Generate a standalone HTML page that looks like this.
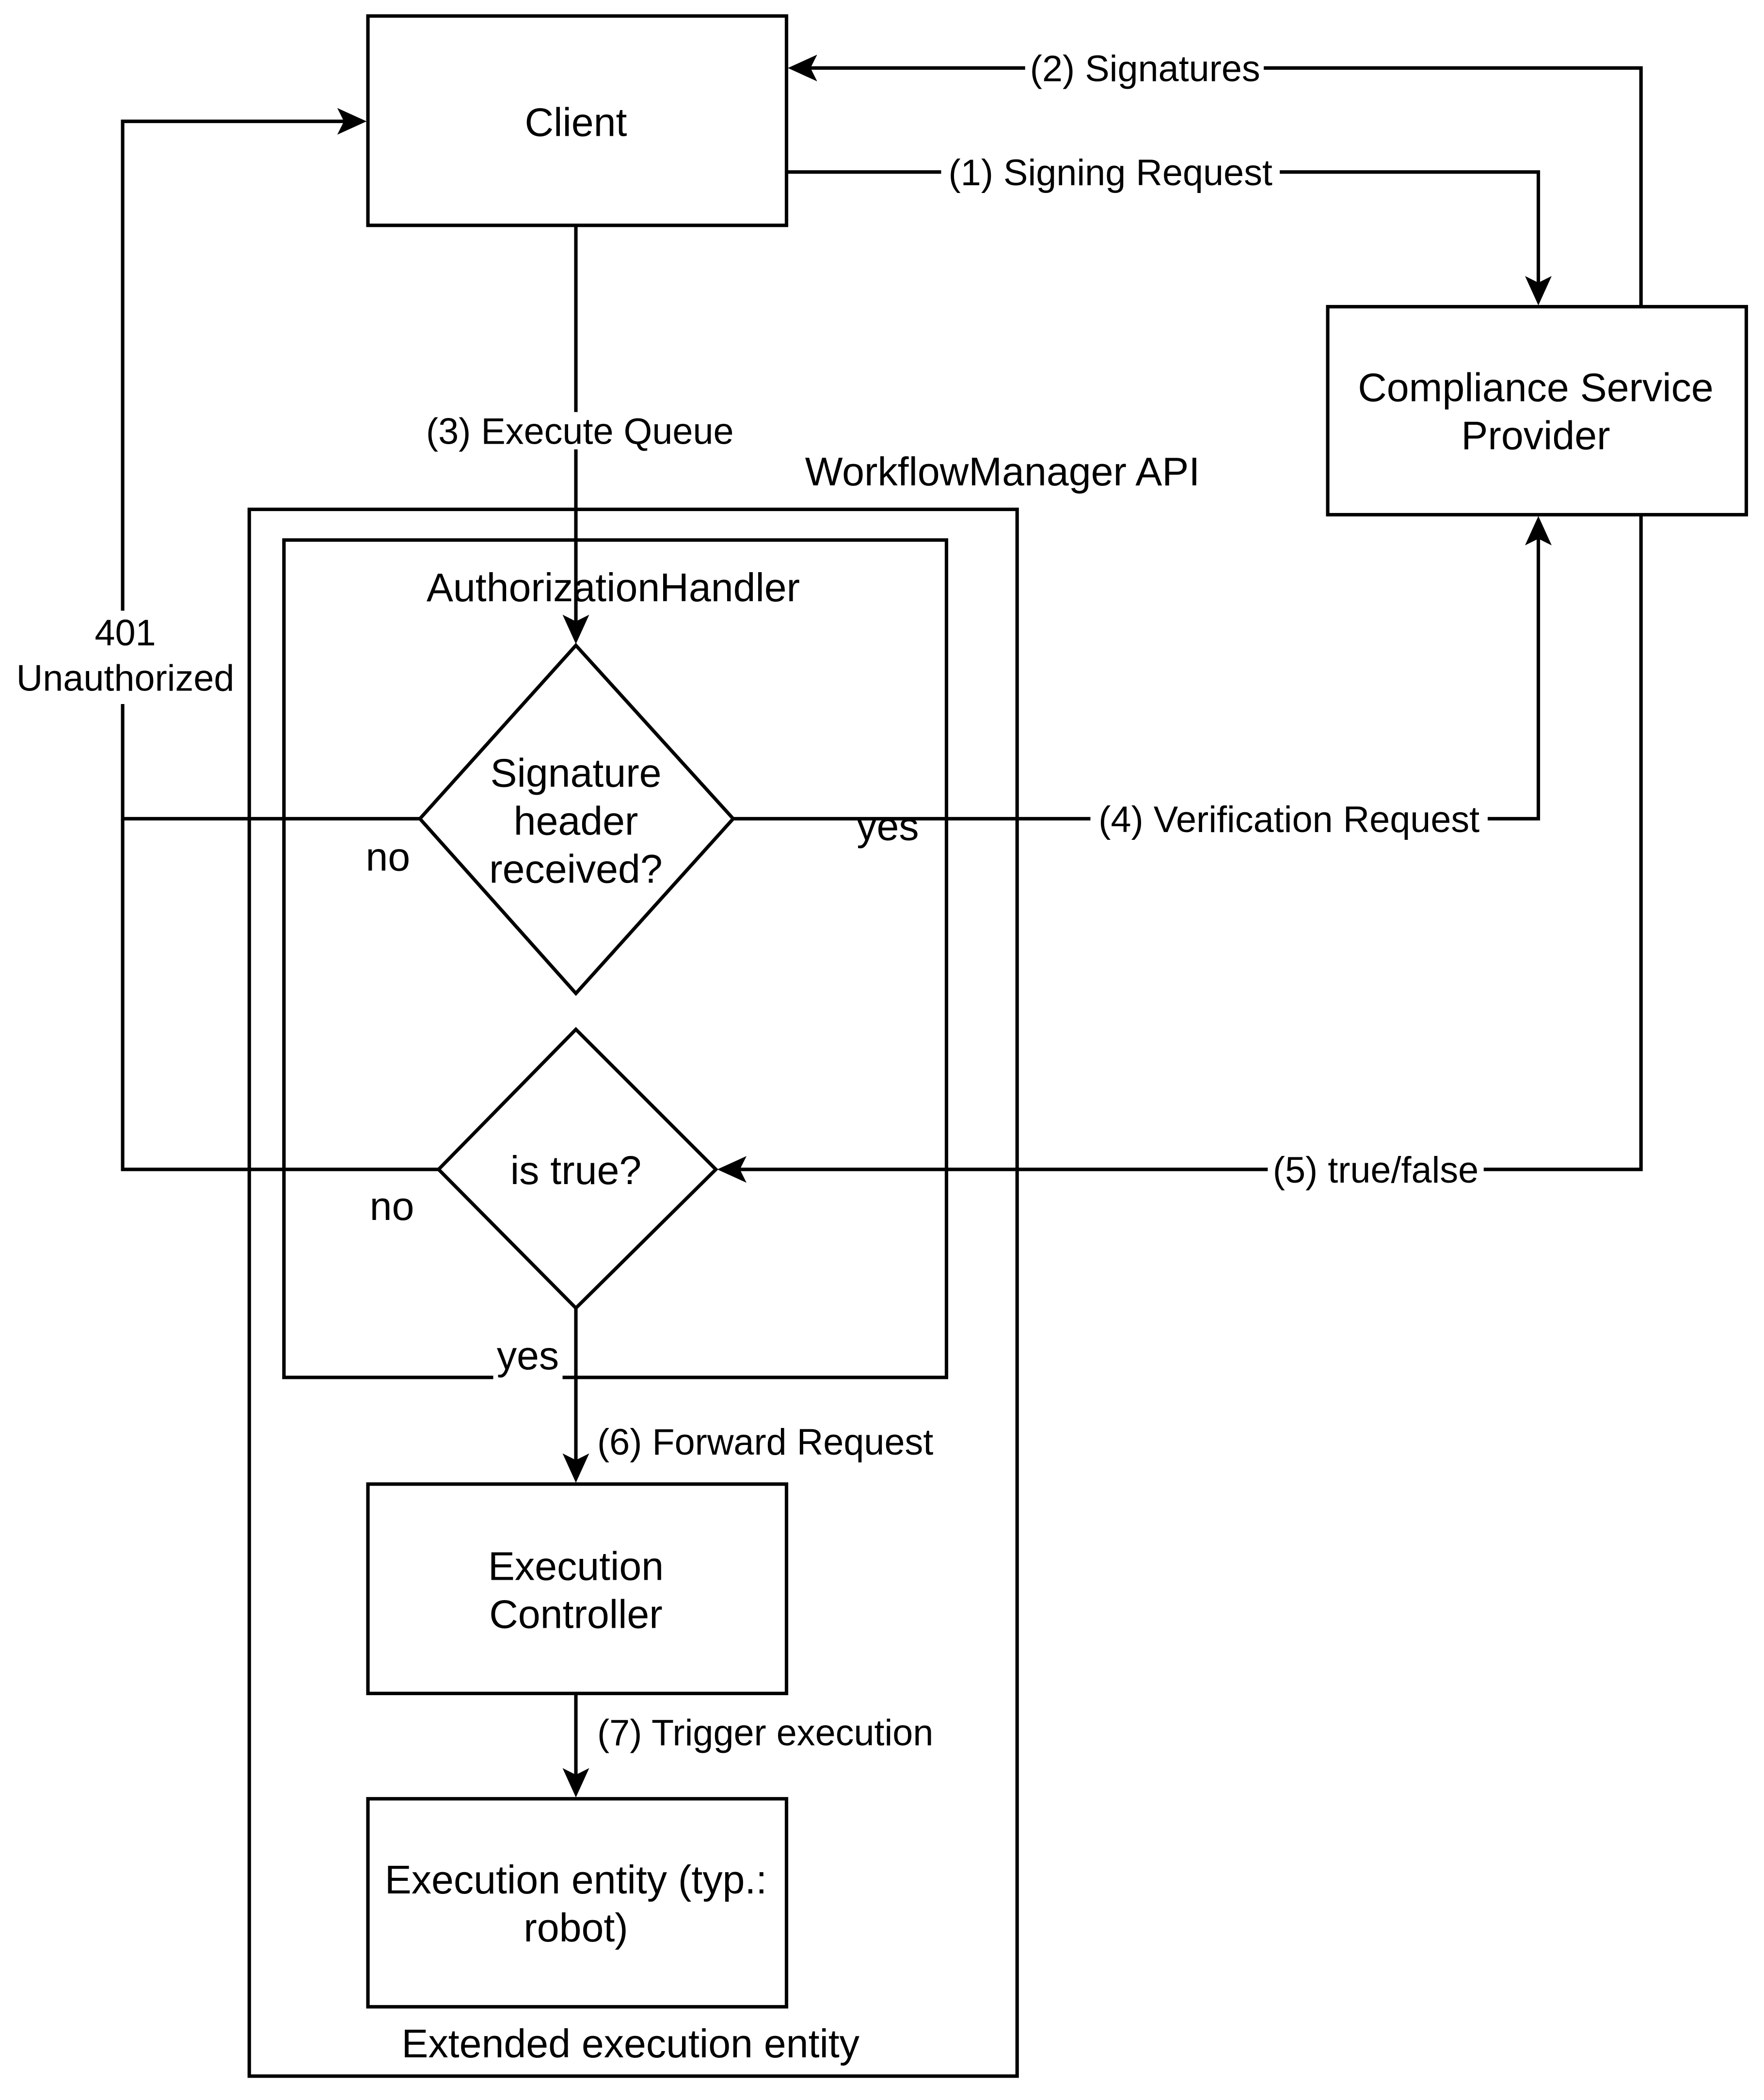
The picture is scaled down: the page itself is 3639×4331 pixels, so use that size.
<!DOCTYPE html>
<html><head><meta charset="utf-8"><style>
html,body{margin:0;padding:0;background:#fff;}
svg{display:block;}
text{font-family:"Liberation Sans",sans-serif;fill:#000;}
</style></head><body>
<svg width="3639" height="4331" viewBox="0 0 1323.27 1574.91" xmlns="http://www.w3.org/2000/svg">
<rect width="1323.27" height="1574.91" fill="#fff"/>
<g fill="none" stroke="#000" stroke-width="2.6">
<rect x="276" y="12" width="314" height="157"/>
<rect x="996" y="230" width="314" height="156"/>
<rect x="187" y="382" width="576" height="1175"/>
<rect x="213" y="405" width="497" height="628"/>
<polygon points="432,484 550,614 432,745 315,614"/>
<polygon points="432,772 537,877 432,981 329,877"/>
<rect x="276" y="1113" width="314" height="157"/>
<rect x="276" y="1349" width="314" height="156"/>
<polyline points="590,129 1154,129 1154,212"/>
<polyline points="1231,230 1231,51 608,51"/>
<polyline points="432,169 432,466"/>
<polyline points="550,614 1154,614 1154,404"/>
<polyline points="1231,386 1231,877 555,877"/>
<polyline points="315,614 92,614 92,91 258,91"/>
<polyline points="329,877 92,877 92,614"/>
<polyline points="432,981 432,1095"/>
<polyline points="432,1270 432,1331"/>
</g>
<g fill="#000">
<polygon points="1154,229 1144,207 1154,212 1164,207"/>
<polygon points="591,51 613,41 608,51 613,61"/>
<polygon points="432,483 422,461 432,466 442,461"/>
<polygon points="1154,387 1144,409 1154,404 1164,409"/>
<polygon points="538,877 560,867 555,877 560,887"/>
<polygon points="275,91 253,81 258,91 253,101"/>
<polygon points="432,1112 422,1090 432,1095 442,1090"/>
<polygon points="432,1348 422,1326 432,1331 442,1326"/>
</g>
<g fill="#fff">
<rect x="10" y="458" width="170" height="70"/>
<rect x="370" y="1020" width="52" height="24"/>
<rect x="706" y="115" width="254" height="28"/>
<rect x="769" y="37" width="179" height="28"/>
<rect x="313" y="309" width="244" height="28"/>
<rect x="818" y="600" width="298" height="28"/>
<rect x="951" y="863" width="162" height="28"/>
</g>
<g font-size="30" text-anchor="middle">
<text x="432" y="102">Client</text>
<text x="1152" y="301">Compliance Service</text>
<text x="1152" y="337">Provider</text>
<text x="752" y="364">WorkflowManager API</text>
<text x="460" y="451">AuthorizationHandler</text>
<text x="432" y="590">Signature</text>
<text x="432" y="626">header</text>
<text x="432" y="662">received?</text>
<text x="432" y="888">is true?</text>
<text x="432" y="1185">Execution</text>
<text x="432" y="1221">Controller</text>
<text x="432" y="1420">Execution entity (typ.:</text>
<text x="432" y="1456">robot)</text>
<text x="473" y="1543">Extended execution entity</text>
<text x="666" y="630">yes</text>
<text x="291" y="653">no</text>
<text x="294" y="915">no</text>
<text x="396" y="1027">yes</text>
</g>
<g font-size="27.5" text-anchor="middle">
<text x="833" y="139">(1) Signing Request</text>
<text x="859" y="61">(2) Signatures</text>
<text x="435" y="333">(3) Execute Queue</text>
<text x="967" y="624">(4) Verification Request</text>
<text x="1032" y="887">(5) true/false</text>
<text x="94" y="484">401</text>
<text x="94" y="518">Unauthorized</text>
</g>
<g font-size="27.5">
<text x="448" y="1091">(6) Forward Request</text>
<text x="448" y="1309">(7) Trigger execution</text>
</g>
</svg>
</body></html>
